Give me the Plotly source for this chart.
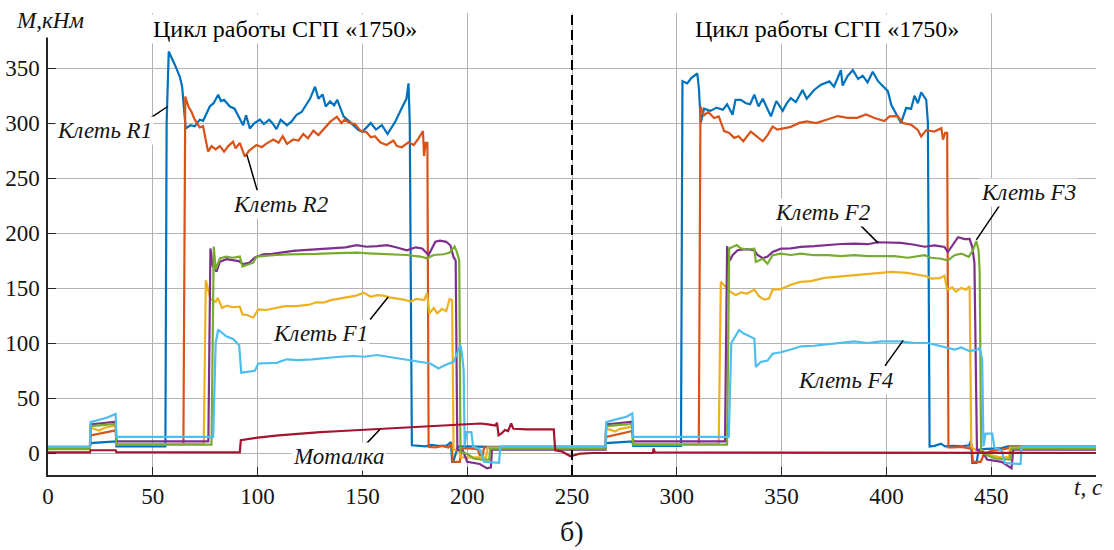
import plotly.graph_objects as go

# ---------------- data ----------------
r1_t = [0, 20.0, 20.3, 32.3, 32.6, 56.0, 56.6, 57.6, 60.5, 62.9, 64.0, 65.0, 65.7, 68, 70, 72.4, 74, 77.2, 79, 81.2,
        82.5, 84, 86.8, 89, 91, 93.1, 94.5, 96.3, 98.5, 101.1, 103, 105.5, 107, 109, 111, 114, 116, 118.6, 121, 123.4,
        125, 127.4, 129, 131, 132.5, 134.6, 136.5, 138, 141, 144, 146, 148, 150, 152, 154, 156.5, 159.3, 162, 164,
        165.6, 168.8, 171, 172, 172.6, 173.6, 176, 180, 183, 186, 190, 192.3, 192.8, 193.3, 195.5, 196.2, 200, 205,
        210, 266, 266.3, 278.8, 279.2, 302.0, 302.7, 305, 307, 309.8, 310.6, 311.4, 313, 316, 319, 322, 324, 326.6,
        328, 330.5, 333, 335, 337, 339, 341, 344.9, 347.5, 350.5, 352.5, 354.4, 356.8, 360, 362, 365.5, 368.8, 372.8,
        375, 378.3, 379.1, 381.6, 384, 386.5, 388.7, 391, 393.5, 396, 398.3, 400.7, 402.3, 404.6, 407, 409.4, 411.8,
        413.4, 415, 416.6, 419, 419.8, 420.6, 423, 426, 428, 432, 436, 439.5, 440.3, 441, 443, 444, 446, 450, 455,
        458, 500]
r1_m = [5.5, 5.5, 9, 10.5, 6, 6, 300, 365, 353, 342, 333, 310, 295, 298, 297, 303, 302, 315, 318, 325.7,
        320, 321, 315, 313, 305, 298, 307, 295, 300, 303, 299, 303, 300, 294.4, 303, 298, 301, 307.5, 310, 318,
        322, 333, 322, 326, 315, 319.6, 316, 321, 306, 301, 297, 293.8, 292, 296, 300, 294, 298, 290, 296,
        301, 313.6, 322, 336, 300, 7, 6.5, 6, 7.5, 6.5, 6.5, 10, -8, -8, 5, 6, 6, 5.5,
        5.5, 5.5, 9, 10.5, 6.5, 6.5, 338, 336, 341, 345, 330, 300, 313, 311, 314, 312, 317, 307.5,
        321, 321, 318, 317, 325.7, 315, 322, 306, 320, 311, 318, 322.7, 319, 330, 322, 330, 334.8, 337.8,
        333, 348, 334, 343, 348, 340, 343, 337, 346.6, 338, 333.3, 329, 316.6, 309, 300, 313.6, 313,
        324.7, 318, 327.8, 321, 300, 6, 6.5, 8.5, 6, 6.5, 6, 7, 11, -9, -9, 3, 3.5, 4, 4.5,
        6, 6]

r2_t = [0, 20.0, 20.3, 32.3, 32.6, 64.6, 65.5, 67, 68.5, 70, 72.4, 74, 75.2, 76.4, 78, 80, 82, 84, 86, 88.3,
        89.5, 91.5, 93.9, 96, 99.5, 102, 104, 107.5, 110, 112, 114, 117, 119.5, 121.8, 124, 126.6, 129, 132,
        134.6, 137.8, 140, 141.5, 144, 146.5, 149, 152, 154, 156, 158.5, 161.5, 164.8, 166.5, 168.8, 172, 174.5,
        176.8, 178.9, 179.4, 180.2, 181.0, 181.6, 185, 188, 191, 192.5, 193.2, 196.5, 197.3, 200, 205, 206,
        207.5, 208, 266, 266.3, 278.8, 279.2, 310.5, 311.3, 313, 315, 317.8, 320, 322.6, 325, 327.4, 329.5, 331.7,
        335.3, 338, 341, 343.3, 345.7, 348, 351, 354.4, 358.4, 362, 366.5, 372, 376.8, 381.5, 386, 390.3, 394,
        399, 401.5, 405.4, 407.8, 411.7, 415, 416.6, 419, 422.9, 426.2, 427, 428, 429, 429.6, 432, 436, 439.5,
        440.5, 441.3, 445, 446.5, 450, 455, 460, 500]
r2_m = [5, 5, 16, 20.5, 8, 8, 324, 315, 310, 303, 296, 297, 285, 274, 279, 276, 279, 274, 279, 283,
        277, 282, 269.5, 275, 280, 278, 281, 285, 282, 288, 281, 285, 284, 290, 286, 293, 289, 295,
        301, 305.7, 300, 303, 300, 299, 293, 291.6, 287, 288, 282.5, 280, 284, 279, 278, 282.5, 280,
        286, 292.6, 270, 282, 282, 5.5, 5, 6.5, 5, 8.5, -8, -8, 4, 4.5, 3.5, -2,
        -2, 5, 5, 14.6, 20, 8, 8, 315, 307, 310, 304.5, 306, 292.6, 291, 286.5, 288, 283.4,
        292.2, 288, 283.4, 289, 296.7, 294, 295, 296.5, 300.1, 301.5, 300, 303.2, 306.3, 304.7, 304.7, 307.8, 304.7,
        301.8, 306, 306.3, 300, 298.5, 293.7, 287.7, 293.5, 292.2, 295.3, 284.9, 291, 291, 5, 5, 5.5, 4,
        8, -8, -8, -1, 2, 3, 5, 5]

f1_t = [0, 20.0, 20.3, 22.5, 24.5, 27, 32.3, 32.6, 74.3, 75.3, 76.2, 77.5, 80, 81, 83, 85.5, 88, 91.5, 92.8, 95,
        97.9, 100.3, 104, 109, 113, 118.6, 122, 125, 128, 131.4, 135, 140, 144, 147, 150.5, 154, 157, 160, 163,
        166.4, 169.5, 172.8, 176, 179.5, 180.8, 182, 184, 185.7, 188, 190, 191.6, 192.8, 193.5, 196, 197, 209,
        209.8, 266, 266.3, 268.5, 270.5, 273, 278.8, 279.2, 320, 321, 323.5, 325.5, 328.2, 330.5, 333.6, 337,
        339.3, 341.7, 344, 345.7, 349.7, 354.4, 359, 364, 370.4, 378.3, 386.3, 394.3, 402.3, 410, 415, 419,
        421.5, 425.5, 427.7, 429, 431.5, 433.2, 435.6, 438, 439.7, 440.5, 444, 446, 448, 454, 458.5, 459, 500]
f1_m = [4.5, 4.5, 23, 21.5, 20.5, 23, 25, 8, 8, 157, 150, 140, 137.5, 141, 132, 134, 132.5, 133, 126, 125.5,
        123, 130.6, 130, 132, 133.5, 133.6, 134.5, 135, 137, 136.7, 139, 140.5, 142.2, 143, 145.8, 142, 143.5, 143,
        141.5, 140.8, 139.5, 137.8, 140, 139, 145.3, 127, 132, 127, 131, 129, 140, 139, 3, 2.5, -4, -4,
        5, 5, 22, 21, 19.5, 22, 24, 8, 8, 155.7, 151, 146.6, 143.5, 146, 145, 148.5,
        142.4, 139.4, 140.5, 148.5, 149, 153, 155.5, 156.2, 159.2, 160.7, 162.2, 163.7, 164.6, 163.7, 162.2, 160.7,
        158.6, 159, 161.3, 148.2, 150.5, 146.5, 150, 148.5, 151.6, 5.5, 1, 2, -1, -4, -4, 5, 5]

f2_t = [0, 20.0, 20.3, 32.3, 32.6, 76.5, 77.5, 78.6, 80.4, 82, 85.2, 88, 91, 93.1, 96, 98.7, 102.7, 107, 112, 117,
        122, 127, 131.4, 137, 142, 147.3, 152, 157, 161.7, 166, 171.2, 175.5, 178.5, 181.6, 184.8, 187, 190, 192,
        193.5, 194.5, 195.3, 198, 200, 206, 209.5, 211.3, 211.8, 266, 266.3, 278.8, 279.2, 323, 324, 325.3, 326.7,
        329, 333, 337, 338.5, 341, 343.3, 345.7, 349.7, 354.4, 359.2, 365.6, 372, 378.3, 384.7, 391, 395.9, 400.7,
        407, 413.4, 418.2, 423, 427.7, 429.3, 431.7, 434.2, 437.3, 439.7, 441, 442, 443.2, 446, 448, 455, 459.7,
        460.5, 500]
f2_m = [4, 4, 26, 28.5, 10.5, 10.5, 186, 170, 164.8, 174, 176.2, 175.5, 174.5, 171.7, 173, 177.7, 180.7, 181, 182.5, 183.7,
        184.5, 185, 185.8, 186.5, 187, 189, 187.5, 188, 189, 187, 184.3, 187, 186, 180, 192, 193, 192, 188.6,
        178, 175, 3, 2, -8, -10, -14, -13, 3, 3, 26, 28.5, 10.5, 10.5, 188, 175, 180,
        184.3, 185.3, 184.3, 180, 177, 178.5, 182.7, 185.8, 186, 187.3, 188, 189.3, 190, 190.3, 189.8, 191.6, 191.6,
        191, 189.3, 187.5, 188.8, 187.3, 182.7, 189, 196.2, 194.5, 194.6, 187, 172.8, 3, 1, -6, -8, -14,
        3, 3]

f3_t = [0, 20.0, 20.3, 32.3, 32.6, 78.0, 79.1, 80, 82, 85, 88, 91.5, 92.8, 95, 97.9, 99.5, 104, 109, 115, 121,
        128.2, 134, 140.9, 147, 153, 160, 166, 171, 177.6, 180.8, 184, 188.7, 191.5, 194, 195, 196.2, 196.8, 199,
        201, 203, 207, 210.5, 211, 266, 266.3, 278.8, 279.2, 324, 325, 328.6, 330.5, 333.6, 337, 337.7, 341, 343.3,
        345.7, 349.7, 354.4, 359.2, 365.6, 372, 378.3, 384.7, 391, 397.5, 403.8, 410.2, 418.2, 421.3, 426.2, 429.3,
        432.5, 435.7, 439.3, 441.3, 442.9, 444, 444.5, 445.2, 448, 452, 459, 459.7, 500]
f3_m = [3.5, 3.5, 24.5, 26.5, 7.6, 7.6, 187.6, 167, 177, 178.5, 177.5, 178.6, 169.4, 171, 173, 178.6, 179.5, 180, 180.5, 180.5,
        181, 181.5, 182.2, 182.2, 181.5, 181, 180, 180, 178.6, 177, 180, 180.7, 182, 187.6, 183, 175, 1, 0,
        -2, -5, -6, -6, 4, 4, 24.5, 26.5, 7.6, 7.6, 186, 189, 186, 185, 185.8, 173.7, 176.5, 172,
        179.8, 181.3, 180, 181.3, 179.8, 179.8, 178.9, 179.8, 178.9, 178.9, 178.9, 177.5, 179.8, 177.5, 176.6, 175,
        179.8, 181.3, 178.3, 184.5, 192.7, 184, 164.8, 1, -2, -5, -6, 4, 4]

f4_t = [0, 20.0, 20.3, 24, 28, 32.3, 32.6, 78.8, 80, 81.2, 83, 85, 88.3, 91.2, 92.2, 94.5, 98.7, 100.3, 104, 109,
        113.9, 119, 126, 133, 139, 145.7, 151, 156.9, 163, 169.6, 176, 182.4, 186.3, 189.5, 193.5, 195.9, 196.8,
        197.5, 198.3, 198.8, 199.7, 202, 202.8, 206.3, 208, 215.2, 215.8, 266, 266.3, 272, 276, 278.8, 279.2,
        324.8, 326, 329.7, 332, 337, 337.7, 340, 343.3, 345.7, 349.7, 354.4, 359.2, 365.6, 372, 378.3, 384.7, 391,
        397.5, 407, 413.4, 419.8, 426.2, 432.6, 435.7, 439.7, 443.7, 444.5, 445.7, 446.3, 447.3, 450.5, 451.5,
        455, 456.5, 464, 464.5, 500]
f4_m = [5.5, 5.5, 28, 30, 32, 35.5, 14.6, 14.6, 100, 112.3, 109, 106, 103.7, 98, 73, 73.5, 74.8, 81.4, 81.6, 82,
        85.2, 84.5, 85.2, 86.7, 87.5, 88.2, 87.5, 89.1, 87.3, 85.2, 83.5, 81.4, 76.9, 80, 82.9, 93.5, 98,
        90, 75.4, 6, 19, 19, 6, 3, -8, -9, 6, 6, 28, 31, 33, 36, 14.6,
        14.6, 100, 111.7, 108.6, 104, 78.3, 82.8, 84, 90.2, 91.6, 94.1, 97, 97.5, 98.6, 99.7, 101.4, 100,
        101.4, 101.4, 100, 100, 97, 94, 96, 92.6, 94, 96, 84, 6, 17.6, 17.6, 5,
        2, -9, -10, 6, 6]

mot_t = [0, 20.0, 20.3, 32.3, 32.6, 60, 91.5, 92, 100, 110, 120, 130, 140, 150, 160, 170, 180, 190, 200, 206.3,
         210, 213.4, 214.2, 215, 216.5, 218, 219.5, 221, 222, 228.6, 241.3, 242, 245, 249.3, 254, 260, 288.5, 289,
         289.5, 500]
mot_m = [0.5, 0.5, 2.5, 2.5, 0.8, 0.5, 0.5, 11.6, 14, 16, 17.8, 19, 20, 21, 22.2, 23.2, 24.3, 25.2, 26, 26.8,
         26, 25, 27.5, 16, 18, 21, 20, 27, 22, 21.4, 21.4, 2.5, 1.5, -3, -0.5, 0, 0, 4,
         0.5, 0]

series = [
    ("Клеть R1", r1_t, r1_m, "#0072BD"),
    ("Клеть R2", r2_t, r2_m, "#D95319"),
    ("Клеть F1", f1_t, f1_m, "#EDB120"),
    ("Клеть F2", f2_t, f2_m, "#7E2F8E"),
    ("Клеть F3", f3_t, f3_m, "#77AC30"),
    ("Клеть F4", f4_t, f4_m, "#4DBEEE"),
    ("Моталка", mot_t, mot_m, "#A2142F"),
]

x_ticks = [0, 50, 100, 150, 200, 250, 300, 350, 400, 450, 500]
x_ticktext = ["0", "50", "100", "150", "200", "250", "300", "350", "400", "450", ""]
y_ticks = [0, 50, 100, 150, 200, 250, 300, 350, 400]
y_ticktext = ["0", "50", "100", "150", "200", "250", "300", "350", ""]

# labels: (text, text_x, text_y, tip_x, tip_y, tail_dx_px, tail_dy_px)
labels = [
    ("Клеть R1", 27.0, 292.8, 57.1, 315.0, -21, 14),
    ("Клеть R2", 111.1, 226.3, 94.9, 271.0, 11, 38),
    ("Клеть F1", 129.8, 109.0, 162.3, 141.8, -20, 25),
    ("Моталка", 138.4, -3.0, 158.4, 21.6, -17, 18),
    ("Клеть F2", 369.7, 218.3, 396.0, 191.0, -20, -20),
    ("Клеть F3", 467.7, 236.4, 442.9, 193.7, 25, -37),
    ("Клеть F4", 380.7, 66.2, 408.0, 102.4, -20, 28),
]
cycle_title = "Цикл работы СГП «1750»"
cycle_pos = [113.0, 371.7]

SERIF = "Liberation Serif"
TXT = "#141414"

fig = go.Figure()
for name, t, m, c in series:
    fig.add_trace(go.Scatter(x=t, y=m, mode="lines", name=name,
                             line=dict(color=c, width=2.2), showlegend=False,
                             hoverinfo="skip"))

axis_common = dict(showgrid=True, gridcolor="#b3b3b3", gridwidth=1, zeroline=False,
                   showline=True, linecolor="#262626", linewidth=1.5, automargin=False,
                   ticks="inside", ticklen=8, tickwidth=1.3, tickcolor="#262626",
                   tickfont=dict(family=SERIF, size=23, color=TXT))

fig.update_xaxes(range=[0, 500], tickvals=x_ticks, ticktext=x_ticktext, **axis_common)
fig.update_yaxes(range=[-20, 400], tickvals=y_ticks, ticktext=y_ticktext, ticklabelstandoff=2, **axis_common)

annotations = []
for txt, tx, ty, px_, py_, dx, dy in labels:
    annotations.append(dict(x=px_, y=py_, xref="x", yref="y", text=" ", font=dict(size=2),
                            showarrow=True, arrowhead=0, arrowwidth=1.5, arrowcolor="black",
                            ax=dx, ay=dy, axref="pixel", ayref="pixel"))
    annotations.append(dict(x=tx, y=ty, xref="x", yref="y", text=txt, showarrow=False,
                            font=dict(family=SERIF, size=23, color=TXT, style="italic"),
                            bgcolor="white", borderpad=1))
for cx in cycle_pos:
    annotations.append(dict(x=cx, y=385.5, xref="x", yref="y", text=cycle_title, showarrow=False,
                            font=dict(family=SERIF, size=24, color="black"), bgcolor="white",
                            borderpad=1))
annotations.append(dict(x=-0.035, y=0.983, xref="paper", yref="paper", xanchor="left", yanchor="middle",
                        text="M,кНм", showarrow=False, bgcolor="white", borderpad=4,
                        font=dict(family=SERIF, size=23, color=TXT, style="italic")))
annotations.append(dict(x=0.992, y=-0.028, xref="paper", yref="paper", xanchor="center", yanchor="middle",
                        text="t, c", showarrow=False,
                        font=dict(family=SERIF, size=23, color=TXT, style="italic")))
annotations.append(dict(x=0.5, y=-0.123, xref="paper", yref="paper", xanchor="center", yanchor="middle",
                        text="б)", showarrow=False,
                        font=dict(family=SERIF, size=28, color=TXT)))

fig.update_layout(
    width=1114, height=550, autosize=False,
    margin=dict(l=48, r=18, t=13, b=75),
    paper_bgcolor="white", plot_bgcolor="white",
    font=dict(family=SERIF),
    annotations=annotations,
    shapes=[dict(type="line", x0=250, x1=250, xref="x", y0=0, y1=1, yref="paper",
                 line=dict(color="black", width=2, dash="10px,5px"))],
    showlegend=False,
)

fig.write_html("out.html")
